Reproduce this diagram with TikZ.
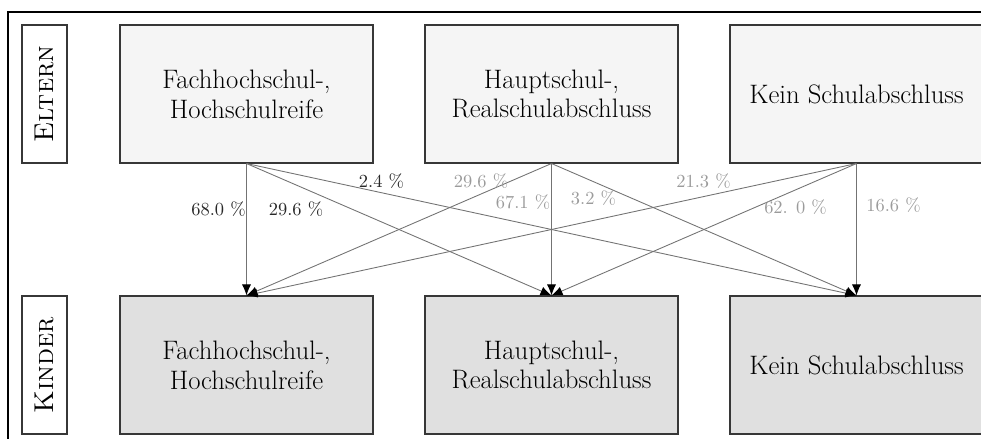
\documentclass[tikz,border=0pt]{standalone}
\usepackage{tikz}
\usetikzlibrary{positioning, arrows.meta}
\definecolor{rahmengrau}{RGB}{55,55,55}
\definecolor{liniengrau}{RGB}{115,115,115}
\definecolor{textdunkel}{RGB}{40,40,40}
\definecolor{texthell}{RGB}{155,155,155}

\begin{document}
\begin{tikzpicture}[
  x=0.02cm, y=-0.02cm,
  box/.style={rectangle, draw=rahmengrau, line width=0.6pt, minimum width=5.06cm, minimum height=2.76cm, align=center, inner sep=1pt, font=\fontsize{15.2}{17}\selectfont},
  oben/.style={box, fill=black!4},
  unten/.style={box, fill=black!12},
  ebene/.style={rectangle, draw=rahmengrau, line width=0.6pt, minimum width=0.9cm, minimum height=2.76cm, inner sep=0pt, font=\fontsize{15.5}{17}\selectfont},
  pfeil/.style={-{Latex[length=2.2mm, width=1.8mm, black]}, liniengrau, line width=0.5pt},
  wert/.style={font=\fontsize{10.5}{12}\selectfont, inner sep=1pt}
]
\useasboundingbox (0,0) rectangle (981,439);
\draw[line width=0.8pt, black] (8,12) rectangle (1000,460);

% Eltern
\node[oben] (o1) at (246.5,94) {Fachhochschul-,\\Hochschulreife};
\node[oben, right=1.02cm of o1] (o2) {Hauptschul-,\\Realschulabschluss};
\node[oben, right=1.02cm of o2] (o3) {Kein Schulabschluss};
\node[ebene, left=1.04cm of o1] (eltern) {\rotatebox{90}{\textsc{Eltern}}};

% Kinder
\node[unten, below=2.64cm of o1] (u1) {Fachhochschul-,\\Hochschulreife};
\node[unten, below=2.64cm of o2] (u2) {Hauptschul-,\\Realschulabschluss};
\node[unten, below=2.64cm of o3] (u3) {Kein Schulabschluss};
\node[ebene, left=1.04cm of u1] (kinder) {\rotatebox{90}{\textsc{Kinder}}};

\draw[pfeil] (o1.south) -- (u1.north);
\draw[pfeil] (o1.south) -- (u2.north);
\draw[pfeil] (o1.south) -- (u3.north);
\draw[pfeil] (o2.south) -- (u1.north);
\draw[pfeil] (o2.south) -- (u2.north);
\draw[pfeil] (o2.south) -- (u3.north);
\draw[pfeil] (o3.south) -- (u1.north);
\draw[pfeil] (o3.south) -- (u2.north);
\draw[pfeil] (o3.south) -- (u3.north);

% Anteile
\node[wert, textdunkel] (p11) at (218.5,209) {68.0 \%};
\node[wert, textdunkel] (p12) at (296,209) {29.6 \%};
\node[wert, textdunkel] (p13) at (381.5,181) {2.4 \%};
\node[wert, texthell] (p21) at (481,181) {29.6 \%};
\node[wert, texthell] (p22) at (523,202) {67.1 \%};
\node[wert, texthell] (p23) at (593.5,198) {3.2 \%};
\node[wert, texthell] (p31) at (703.5,181) {21.3 \%};
\node[wert, texthell] (p32) at (795.5,207) {62. 0 \%};
\node[wert, texthell] (p33) at (893.5,205) {16.6 \%};
\end{tikzpicture}
\end{document}
